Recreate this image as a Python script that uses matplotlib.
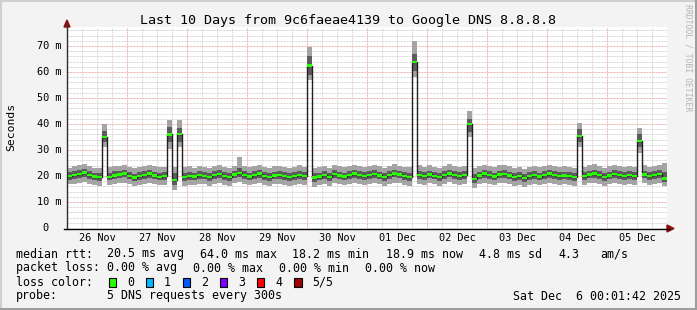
import matplotlib
matplotlib.use('Agg')
import matplotlib.pyplot as plt
from matplotlib.patches import Rectangle, Polygon
from matplotlib.lines import Line2D
from matplotlib.transforms import blended_transform_factory

W, H = 697, 310
plt.rcParams['font.family'] = 'DejaVu Sans Mono'
plt.rcParams['lines.scale_dashes'] = False

# ---- data (2 hour bins, starting 26 Nov 00:00) ----
bin_hours = 2
median_ms = [
    20.0, 20.3, 20.8, 21.3, 20.5, 19.8, 19.5, 35.0, 19.6, 20.2,
    20.6, 21.0, 20.1, 19.4, 19.9, 20.4, 20.9, 20.2, 19.7, 20.0,
    36.0, 18.4, 36.2, 19.6, 20.0, 19.8, 20.5, 20.1, 19.5, 20.3,
    20.8, 20.0, 19.6, 20.6, 21.2, 20.4, 19.8, 20.3, 20.9, 20.0,
    19.6, 20.2, 20.5, 19.9, 19.5, 20.1, 20.4, 19.9, 62.5, 19.4,
    19.8, 20.3, 19.6, 20.7, 20.2, 19.8, 20.5, 20.9, 20.3, 19.9,
    20.4, 20.8, 20.2, 19.6, 20.3, 21.0, 20.6, 20.1, 19.7, 63.8,
    20.4, 19.9, 20.6, 20.1, 19.5, 20.3, 21.0, 20.5, 19.9, 20.3,
    40.0, 18.8, 20.2, 20.9, 20.4, 19.8, 20.6, 20.8, 20.2, 19.7,
    20.1, 19.3, 19.9, 20.3, 19.8, 20.5, 20.9, 20.4, 19.9, 20.2,
    20.0, 19.6, 35.5, 20.0, 20.6, 20.9, 20.3, 19.7, 20.2, 20.7,
    20.4, 19.9, 20.3, 20.1, 33.5, 20.6, 19.9, 20.3, 20.8, 19.0,
]
smoke_outer_hi = [
    23.2, 23.8, 24.2, 24.5, 23.9, 23.1, 23.0, 40.0, 23.4, 23.8,
    24.0, 24.4, 23.6, 22.9, 23.5, 23.9, 24.3, 23.7, 23.3, 23.6,
    41.5, 23.6, 41.5, 23.4, 23.8, 23.1, 24.0, 23.6, 23.0, 23.9,
    24.2, 23.5, 23.2, 24.0, 27.5, 23.8, 23.3, 23.8, 24.3, 23.6,
    23.2, 23.7, 24.0, 23.4, 23.1, 23.6, 24.2, 23.5, 69.5, 23.0,
    23.4, 23.9, 23.1, 24.1, 23.7, 23.3, 24.0, 24.4, 23.8, 23.4,
    23.9, 24.3, 23.7, 23.2, 23.8, 24.5, 24.0, 23.6, 23.3, 72.0,
    24.4, 23.5, 24.1, 23.6, 23.1, 23.8, 24.5, 24.0, 23.5, 23.8,
    45.0, 23.2, 23.7, 24.4, 24.0, 23.4, 24.1, 24.3, 23.7, 23.2,
    23.6, 22.8, 23.4, 23.8, 23.3, 24.0, 24.4, 23.9, 23.4, 23.7,
    23.5, 23.1, 40.5, 23.5, 24.1, 24.5, 23.8, 23.2, 23.7, 24.2,
    23.9, 23.4, 23.8, 23.6, 38.5, 24.1, 23.4, 23.8, 24.3, 25.0,
]
smoke_outer_lo = [
    16.8, 17.0, 17.4, 17.8, 17.1, 16.5, 16.2, 31.0, 16.4, 16.9,
    17.2, 17.5, 16.8, 16.1, 16.6, 17.0, 17.4, 16.9, 16.4, 16.7,
    30.5, 14.8, 31.0, 16.2, 16.7, 16.4, 17.1, 16.8, 16.2, 16.9,
    17.4, 16.7, 16.3, 17.2, 17.6, 17.0, 16.5, 16.9, 17.4, 16.7,
    16.3, 16.8, 17.1, 16.6, 16.2, 16.7, 17.0, 16.5, 57.0, 15.8,
    16.4, 16.9, 16.3, 17.2, 16.8, 16.4, 17.1, 17.5, 16.9, 16.5,
    17.0, 17.4, 16.8, 16.3, 16.9, 17.5, 17.2, 16.7, 16.3, 58.0,
    17.0, 16.6, 17.2, 16.8, 16.2, 16.9, 17.6, 17.1, 16.5, 16.9,
    35.0, 15.5, 16.8, 17.4, 17.0, 16.5, 17.2, 17.4, 16.8, 16.3,
    16.7, 15.9, 16.5, 16.9, 16.4, 17.1, 17.5, 17.0, 16.5, 16.8,
    16.6, 16.2, 31.0, 16.6, 17.2, 17.5, 16.9, 16.3, 16.8, 17.3,
    17.0, 16.5, 16.9, 16.7, 29.0, 17.2, 16.5, 16.9, 17.4, 16.0,
]
smoke_inner_lo = [
    18.6, 18.9, 19.3, 19.7, 19.0, 18.4, 18.1, 33.0, 18.3, 18.8,
    19.1, 19.5, 18.7, 18.0, 18.5, 18.9, 19.4, 18.8, 18.3, 18.6,
    33.0, 16.6, 33.0, 18.1, 18.6, 18.4, 19.0, 18.7, 18.1, 18.8,
    19.3, 18.6, 18.2, 19.1, 19.6, 18.9, 18.4, 18.8, 19.4, 18.6,
    18.2, 18.7, 19.0, 18.5, 18.1, 18.6, 18.9, 18.4, 59.0, 17.8,
    18.3, 18.8, 18.2, 19.2, 18.7, 18.3, 19.0, 19.4, 18.8, 18.4,
    18.9, 19.3, 18.7, 18.2, 18.8, 19.5, 19.1, 18.6, 18.2, 60.5,
    18.9, 18.5, 19.1, 18.7, 18.1, 18.8, 19.5, 19.0, 18.4, 18.8,
    37.0, 17.3, 18.7, 19.4, 18.9, 18.3, 19.1, 19.3, 18.7, 18.2,
    18.6, 17.8, 18.4, 18.8, 18.3, 19.0, 19.4, 18.9, 18.4, 18.7,
    18.5, 18.1, 33.0, 18.5, 19.1, 19.4, 18.8, 18.2, 18.7, 19.2,
    18.9, 18.4, 18.8, 18.6, 31.0, 19.1, 18.4, 18.8, 19.3, 17.8,
]
smoke_inner_hi = [
    21.4, 21.9, 22.4, 22.8, 22.0, 21.2, 21.0, 37.5, 21.3, 21.8,
    22.1, 22.5, 21.6, 20.9, 21.4, 21.9, 22.3, 21.7, 21.2, 21.5,
    39.0, 21.0, 38.5, 21.2, 21.6, 21.1, 22.0, 21.6, 21.0, 21.8,
    22.3, 21.5, 21.1, 22.0, 23.0, 21.8, 21.3, 21.8, 22.4, 21.5,
    21.1, 21.7, 22.0, 21.4, 21.0, 21.6, 22.0, 21.4, 66.0, 21.0,
    21.3, 21.8, 21.1, 22.2, 21.7, 21.3, 22.0, 22.4, 21.8, 21.4,
    21.9, 22.3, 21.7, 21.1, 21.8, 22.5, 22.1, 21.6, 21.2, 67.0,
    22.0, 21.4, 22.1, 21.6, 21.0, 21.8, 22.5, 22.0, 21.4, 21.8,
    42.0, 20.6, 21.7, 22.4, 21.9, 21.3, 22.1, 22.3, 21.7, 21.2,
    21.6, 20.8, 21.4, 21.8, 21.3, 22.0, 22.4, 21.9, 21.4, 21.7,
    21.5, 21.1, 38.0, 21.5, 22.1, 22.4, 21.8, 21.2, 21.7, 22.2,
    21.9, 21.4, 21.8, 21.6, 36.0, 22.1, 21.4, 21.8, 22.3, 21.5,
]
day_labels = ['26 Nov', '27 Nov', '28 Nov', '29 Nov', '30 Nov',
              '01 Dec', '02 Dec', '03 Dec', '04 Dec', '05 Dec']
ytick_vals = [0, 10, 20, 30, 40, 50, 60, 70]
ytick_labels = ['0', '10 m', '20 m', '30 m', '40 m', '50 m', '60 m', '70 m']
loss_labels = ['0', '1', '2', '3', '4', '5/5']
loss_colors = ['#26ff00', '#00b8ff', '#0059ff', '#7e00ff', '#ff0000', '#a00000']

# ---- figure ----
fig = plt.figure(figsize=(W / 100, H / 100), dpi=100)
fig.patch.set_facecolor('#f3f3f3')

def fx(px):
    return px / W

def fy(py):
    return 1 - py / H

ax = fig.add_axes([fx(67), fy(228), 600 / W, 201 / H])
ax.set_facecolor('white')
ax.set_xlim(0, 240)
ax.set_ylim(0, 201 / 2.6)
for s in ax.spines.values():
    s.set_visible(False)
ax.set_xticks([])
ax.set_yticks([])

# grid: minor gray, major red
dots = (0, (1.44, 0.72))
for yv in range(2, 78, 2):
    c = '#f2b0b0' if yv % 10 == 0 else '#d8d8d8'
    ax.axhline(yv, color=c, lw=0.72, linestyle=dots, zorder=1)
for xv in range(6, 240, 6):
    c = '#f2b0b0' if xv % 24 == 0 else '#d8d8d8'
    ax.axvline(xv, color=c, lw=0.72, linestyle=dots, zorder=1)

lefts = [i * bin_hours for i in range(len(median_ms))]

# smoke
ax.bar(lefts, [h - l for h, l in zip(smoke_outer_hi, smoke_outer_lo)],
       bottom=smoke_outer_lo, width=bin_hours, align='edge',
       color='#a4a4a4', linewidth=0, zorder=2)
ax.bar(lefts, [h - l for h, l in zip(smoke_inner_hi, smoke_inner_lo)],
       bottom=smoke_inner_lo, width=bin_hours, align='edge',
       color='#5c5c5c', linewidth=0, zorder=3)

# median line and loss-coloured median marks
ax.step(lefts + [lefts[-1] + bin_hours], median_ms + [median_ms[-1]],
        where='post', color='#202020', lw=1.0, zorder=4)
ax.bar(lefts, 0.9, bottom=[m - 0.45 for m in median_ms], width=bin_hours,
       align='edge', color=loss_colors[0], linewidth=0, zorder=5)

# axes lines and arrows (pixel coords)
def px_line(x0, y0, x1, y1, color, lw=1.0):
    fig.add_artist(Line2D([fx(x0), fx(x1)], [fy(y0), fy(y1)], color=color,
                          lw=lw, transform=fig.transFigure))
px_line(67, 228.5, 67, 25, '#303030')
px_line(64, 228.5, 669, 228.5, '#000000')
fig.add_artist(Polygon([[fx(64), fy(27)], [fx(70), fy(27)], [fx(67), fy(20)]],
                       closed=True, color='#8b1010', transform=fig.transFigure))
fig.add_artist(Polygon([[fx(667), fy(225)], [fx(667), fy(232)], [fx(674), fy(228.5)]],
                       closed=True, color='#8b1010', transform=fig.transFigure))

# tick labels
xtr = blended_transform_factory(ax.transData, fig.transFigure)
for i, lab in enumerate(day_labels):
    ax.text(12 + 24 * i, fy(241), lab, transform=xtr, ha='center',
            va='baseline', fontsize=7.4, color='#000000')
ytr = blended_transform_factory(fig.transFigure, ax.transData)
for v, lab in zip(ytick_vals, ytick_labels):
    if lab == '0':
        ax.text(fx(42), v, lab, transform=ytr, ha='left', va='center',
                fontsize=7.4)
    else:
        ax.text(fx(61), v, lab, transform=ytr, ha='right', va='center',
                fontsize=7.4)

# titles
fig.text(fx(348), fy(24), 'Last 10 Days from 9c6faeae4139 to Google DNS 8.8.8.8',
         ha='center', va='baseline', fontsize=9.6, color='#000000')
fig.text(fx(11), fy(127), 'Seconds', rotation=90, ha='center', va='center',
         fontsize=8.2)
fig.text(fx(688), fy(4), 'RRDTOOL / TOBI OETIKER', rotation=270, ha='center',
         va='top', fontsize=5.9, color='#b4b4b4')

# legend
fs = 8.4
def ltext(x, y, s, **kw):
    fig.text(fx(x), fy(y), s, ha=kw.pop('ha', 'left'), va='baseline',
             fontsize=fs, **kw)

ltext(16, 257.5, 'median rtt:')
for x, s in [(107, '20.5 ms avg'), (200, '64.0 ms max'), (292, '18.2 ms min'),
             (386, '18.9 ms now'), (479, '4.8 ms sd'), (558, '4.3'), (600, 'am/s')]:
    ltext(x, 257.5, s)
ltext(16, 271.5, 'packet loss:')
for x, s in [(107, '0.00 % avg'), (193, '0.00 % max'), (279, '0.00 % min'),
             (365, '0.00 % now')]:
    ltext(x, 271.5, s)
ltext(16, 285.5, 'loss color:')
for i, (lab, col) in enumerate(zip(loss_labels, loss_colors)):
    bx = 108.5 + 37.1 * i
    fig.add_artist(Rectangle((fx(bx), fy(286.5)), 7.5 / W, 8.5 / H,
                             facecolor=col, edgecolor='#000000', lw=0.8,
                             transform=fig.transFigure))
    ltext(bx + 18.5, 285.5, lab)
ltext(16, 299.5, 'probe:')
ltext(107, 299.5, '5 DNS requests every 300s')
ltext(681, 299.5, 'Sat Dec  6 00:01:42 2025', ha='right')

# 3d border
px_line(0, 1, W, 1, '#cfcfcf', 1.5)
px_line(1, 0, 1, H, '#cfcfcf', 1.5)
px_line(0, H - 1, W, H - 1, '#9e9e9e', 1.5)
px_line(W - 1, 0, W - 1, H, '#9e9e9e', 1.5)

fig.savefig('out.png', dpi=100, facecolor=fig.get_facecolor())
